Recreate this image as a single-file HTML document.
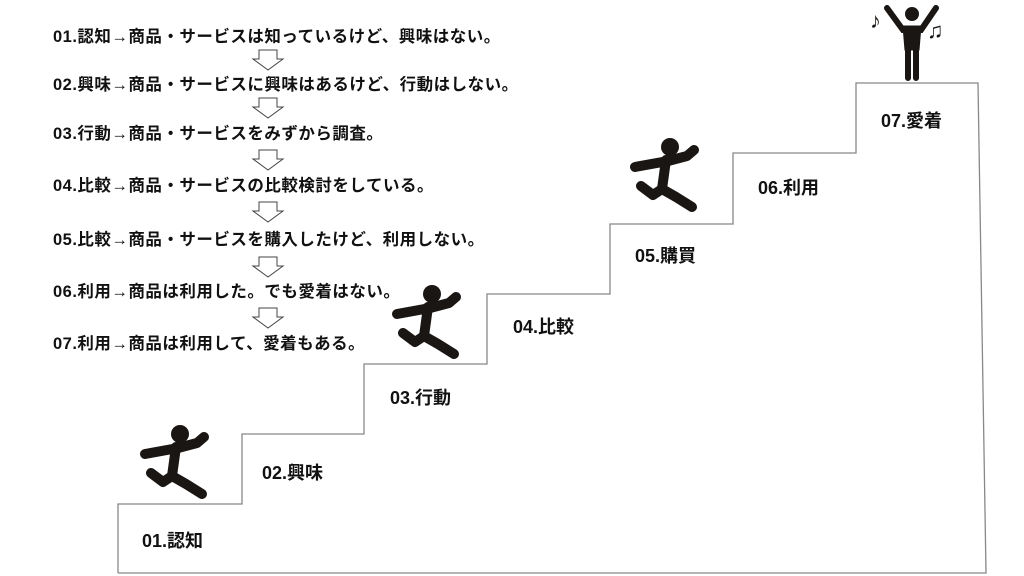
<!DOCTYPE html>
<html><head><meta charset="utf-8"><style>
body{margin:0;width:1024px;height:576px;background:#fff;overflow:hidden;position:relative;font-family:"Liberation Sans","Noto Sans CJK JP",sans-serif;font-weight:bold;color:#111}
.t{position:absolute;left:53px;font-size:16.5px;letter-spacing:0.5px;white-space:nowrap;line-height:18px}
.l{position:absolute;font-size:18px;white-space:nowrap;line-height:20px}
svg{position:absolute;left:0;top:0}
</style></head><body>
<svg width="1024" height="576">
<polyline points="118,573 118,504 242,504 242,434 364,434 364,364 487,364 487,294 610,294 610,224 733,224 733,153 856,153 856,83 978,83 986,573 118,573" fill="none" stroke="#888" stroke-width="1.3"/>
<defs><g id="r" fill="none" stroke="#1a1614" stroke-width="10" stroke-linecap="round" stroke-linejoin="round">
<circle cx="0" cy="0" r="9" fill="#1a1614" stroke="none"/>
<path d="M-4,13 L-8,42"/>
<path d="M-35,20 L-2,14 L17,9 L24,3"/>
<path d="M-8,42 L-17,48 L-29,39"/>
<path d="M-8,42 L6,50 L22,60"/>
</g>
<g id="a"><path d="M-9,0 h18 v9 h6 l-15,11 l-15,-11 h6 z" fill="#fff" stroke="#444" stroke-width="1"/></g></defs>
<use href="#r" x="180" y="434"/>
<use href="#r" x="432" y="294"/>
<use href="#r" x="670" y="147"/>
<g fill="#1a1614" stroke="#1a1614" stroke-linecap="round">
<circle cx="912" cy="14" r="7" stroke="none"/>
<path d="M887,8 L903,30 L921,30 L936,8" fill="none" stroke-width="6"/>
<path d="M903,26 L921,26 L919,50 L905,50 Z" stroke-width="1"/>
<path d="M908,48 L908,78 M916,48 L916,78" stroke-width="6"/>
</g>
<text x="870" y="28" font-size="22" fill="#1a1614">♪</text>
<text x="927" y="38" font-size="22" fill="#1a1614">♫</text>
<use href="#a" x="268" y="50"/>
<use href="#a" x="268" y="98"/>
<use href="#a" x="268" y="150"/>
<use href="#a" x="268" y="202"/>
<use href="#a" x="268" y="257"/>
<use href="#a" x="268" y="308"/>
</svg>
<div class="t" style="top:28px">01.認知→商品・サービスは知っているけど、興味はない。</div>
<div class="t" style="top:76px">02.興味→商品・サービスに興味はあるけど、行動はしない。</div>
<div class="t" style="top:125px">03.行動→商品・サービスをみずから調査。</div>
<div class="t" style="top:177px">04.比較→商品・サービスの比較検討をしている。</div>
<div class="t" style="top:231px">05.比較→商品・サービスを購入したけど、利用しない。</div>
<div class="t" style="top:283px">06.利用→商品は利用した。でも愛着はない。</div>
<div class="t" style="top:335px">07.利用→商品は利用して、愛着もある。</div>
<div class="l" style="left:142px;top:531px">01.認知</div>
<div class="l" style="left:262px;top:463px">02.興味</div>
<div class="l" style="left:390px;top:388px">03.行動</div>
<div class="l" style="left:513px;top:317px">04.比較</div>
<div class="l" style="left:635px;top:246px">05.購買</div>
<div class="l" style="left:758px;top:178px">06.利用</div>
<div class="l" style="left:881px;top:111px">07.愛着</div>
</body></html>
